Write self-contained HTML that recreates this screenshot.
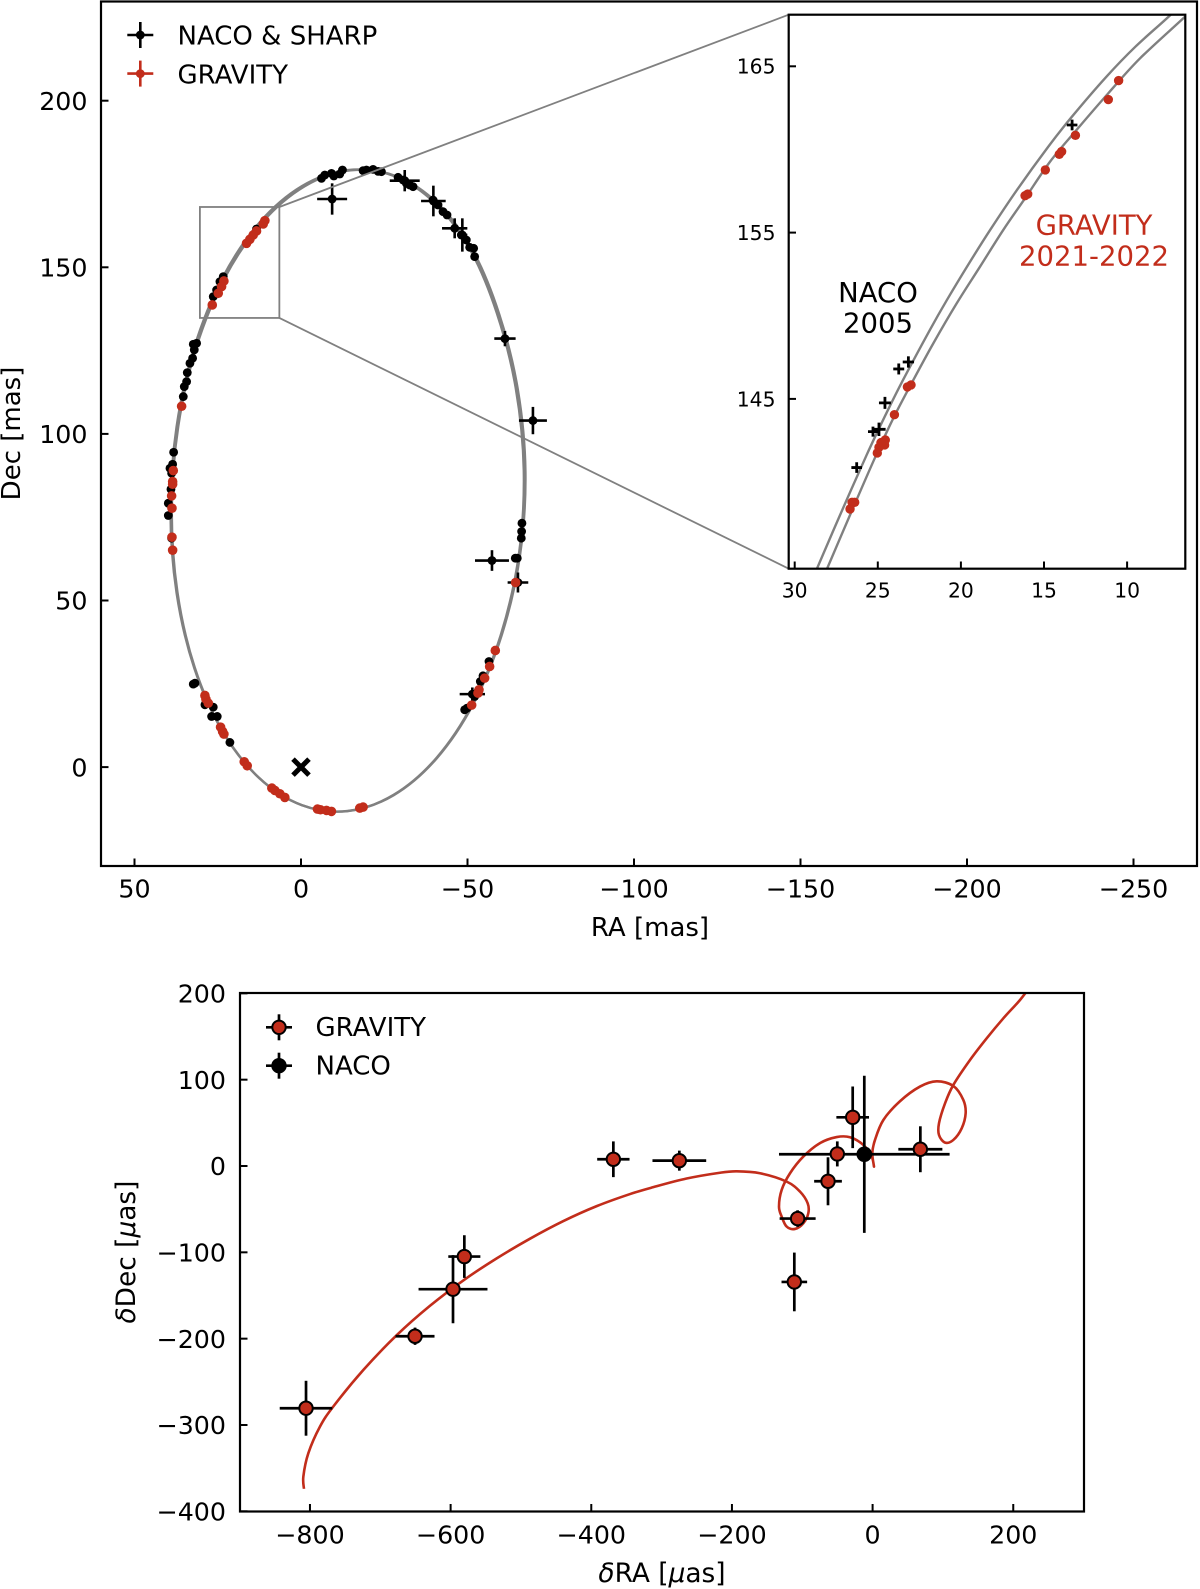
<!DOCTYPE html>
<html lang="en">
<head>
<meta charset="utf-8">
<title>Orbit astrometry and residuals</title>
<style>
html,body{margin:0;padding:0;background:#fff;}
svg{display:block;}
text{font-family:"DejaVu Sans","Liberation Sans",sans-serif;fill:#000;}
</style>
</head>
<body>
<svg id="figure" xmlns="http://www.w3.org/2000/svg" width="1200" height="1589" viewBox="0 0 1200 1589">
<defs>
<clipPath id="clip-main"><rect x="101" y="1.5" width="1096" height="864.5"/></clipPath>
<clipPath id="clip-inset"><rect x="788.7" y="14.7" width="396.6" height="554"/></clipPath>
<clipPath id="clip-low"><rect x="240" y="993" width="844" height="518.5"/></clipPath>
</defs>
<rect x="0" y="0" width="1200" height="1589" fill="#fff"/>
<g id="main-panel"></g>
<g id="inset-panel"></g>
<g id="low-panel"></g>
</svg>
<script>
// ---------- main orbit panel data (mas) ----------
const orbitARa = [-66.9,-64.5,-58.8,-50.8,-40.2,-27.82,-14.04,-0.26,12.58,23.6,32.06,37.37,39.19,37.37,32.06,23.6,12.58,-0.26,-14.04,-27.82,-40.66,-51.68,-60.14,-65.45];
const orbitADec = [89.01,113.7,136.29,155.25,169.29,177.44,179.17,174.34,163.29,146.77,125.89,102.1,77.01,52.32,29.73,10.77,-3.27,-11.42,-13.15,-8.32,2.73,19.25,40.13,63.92];
const orbitBRa = [-67.4,-65.1,-59.5,-51.6,-41.1,-28.71,-14.94,-1.13,11.76,22.87,31.43,36.86,38.8,37.11,31.91,23.55,12.6,-0.2,-13.97,-27.78,-40.67,-51.78,-60.34,-65.77];
const orbitBDec = [88.67,113.37,135.99,154.99,169.09,177.3,179.1,174.34,163.35,146.89,126.05,102.29,77.21,52.51,29.89,10.89,-3.21,-11.42,-13.22,-8.46,2.53,18.99,39.83,63.59];
const nacoRa = [-6.15,-7.15,-9.15,-9.85,-11.65,-12.45,-18.65,-19.65,-21.65,-23.15,-24.15,-29.15,-30.65,-31.65,-32.65,-33.65,-39.65,-41.15,-42.65,-43.85,-48.15,-49.65,-50.65,-51.85,-52.15,31.35,32.35,32.05,32.55,33.35,34.15,34.35,35.05,35.35,23.35,24.35,25.35,26.35,13.35,38.25,38.55,39.35,38.85,39.05,39.85,39.85,38.85,-66.35,-66.25,-66.15,-64.95,-64.35,-56.45,-54.65,-53.85,-53.15,-52.15,-49.85,-49.15,31.85,32.35,28.85,26.35,26.85,25.15,21.35];
const nacoDec = [176.7,177.7,178.2,177.4,178.0,179.2,179.0,179.2,179.4,178.8,178.7,177.0,176.2,175.2,174.7,174.2,170.2,168.7,166.7,165.7,159.7,158.2,156.0,155.7,153.2,127.2,126.9,125.2,122.7,121.2,118.4,115.7,114.2,111.2,147.2,145.7,143.2,141.2,161.5,94.5,90.9,89.7,88.2,83.4,79.2,75.5,68.7,73.2,70.7,68.7,62.7,62.7,31.7,27.4,25.7,22.7,21.2,17.7,17.2,25.2,24.9,18.7,18.0,15.2,15.2,7.4];
const nacoErrRa = [-9.35,-31.15,-39.75,-46.15,-48.45,-61.25,-69.65,-57.35,-65.15,-51.45];
const nacoErrDec = [170.5,176.0,169.9,161.7,159.7,128.6,104.0,62.0,55.4,21.9];
const nacoErrX = [4.5,4.5,3.7,3.8,1.5,3.2,4.2,5.1,3.1,3.8];
const nacoErrY = [4.7,3.2,4.6,3.0,5.0,2.3,4.1,3.1,3.0,2.0];
const gravityRa = [10.85,11.35,13.35,14.35,15.35,16.35,23.15,23.85,24.85,26.65,35.85,38.35,38.55,38.55,38.85,38.75,38.75,38.55,-64.45,-58.35,-56.65,-55.15,-53.45,-53.15,-51.25,28.85,28.55,27.85,24.15,23.55,23.15,17.05,16.15,8.75,7.85,6.35,4.85,-4.95,-5.85,-7.65,-9.15,-17.65,-18.65];
const gravityDec = [164.0,163.0,160.9,159.7,158.4,157.2,145.9,144.2,142.2,138.7,108.3,89.0,85.7,84.9,81.4,77.7,69.0,65.1,55.4,35.0,30.2,26.7,23.2,22.2,18.6,21.5,20.4,19.2,12.0,10.7,9.9,1.6,0.4,-6.3,-7.0,-8.0,-9.1,-12.6,-12.8,-13.0,-13.3,-12.3,-12.0];
const mainXTicks = [50,0,-50,-100,-150,-200,-250];
const mainYTicks = [0,50,100,150,200];
const zoomBoxRa = [30.36,6.5];
const zoomBoxDec = [134.8,168.1];

// ---------- inset data (mas) ----------
const insetARa = [29.15,28.68,27.27,25.67,24.44,23.48,21.87,20.84,19.51,18.24,16.63,14.74,13.32,11.25,9.5,7.4,6.0];
const insetADec = [133.7,134.75,138.02,141.63,144.23,146.14,149.14,150.95,153.15,155.16,157.56,160.17,161.97,164.37,166.18,168.08,169.5];
const insetBRa = [28.6,28.07,26.67,25.23,24.07,22.86,21.66,20.25,18.85,17.45,16.14,14.64,13.13,11.13,9.22,6.52,5.5];
const insetBDec = [133.5,134.75,138.02,141.33,143.83,146.14,148.34,150.75,152.95,155.16,157.06,159.26,161.07,163.38,165.48,167.98,169.0];
const insetGravityRa = [10.51,11.13,13.11,13.94,14.08,14.92,15.98,16.14,23.0,23.22,24.0,24.55,24.59,24.81,24.93,25.03,26.39,26.55,26.67];
const insetGravityDec = [164.14,163.0,160.85,159.87,159.71,158.77,157.32,157.22,145.84,145.72,144.05,142.53,142.23,142.37,142.09,141.75,138.78,138.78,138.38];
const insetNacoRa = [23.16,23.74,24.57,24.93,25.29,26.27,13.31];
const insetNacoDec = [147.22,146.8,144.76,143.17,143.03,140.87,161.47];
const insetNacoErrX = [0.34,0.33,0.36,0.4,0.3,0.32,0.32];
const insetNacoErrY = [0.34,0.33,0.36,0.4,0.3,0.32,0.32];
const insetXTicks = [30,25,20,15,10];
const insetYTicks = [145,155,165];

// ---------- residual panel data (micro-arcsec) ----------
const modelDRa = [-808.5,-809.4,-802.3,-785.7,-766.8,-724,-676.7,-629.3,-581.9,-534.5,-487.1,-439.7,-392.3,-344.9,-311.8,-264.4,-217,-193.3,-160.1,-122.2,-103.2,-92.3,-91.4,-98.5,-110.3,-122.2,-129.3,-133.1,-129.3,-117.4,-98.5,-74.8,-51.1,-32.1,-13.2,-1.3,2,-0.4,3.4,15.3,38.9,67.4,91.1,114.8,129,132.3,126.7,114.8,103,94.4,94.4,103,114.8,138.5,162.2,185.9,209.6,225];
const modelDDec = [-374,-359.7,-332.7,-301.8,-278.6,-236.2,-196,-161.9,-132.5,-107,-84.2,-63.8,-46.5,-32.5,-24.5,-14.5,-7.8,-6.2,-8.4,-18.1,-29.7,-43.2,-54.7,-66.3,-72.9,-70.2,-58.6,-47,-27.7,-8.4,10.9,26.5,33.5,33.3,24.4,10.9,-0.7,14.7,30.2,53.3,75,92,98.1,92.7,76.5,61.1,43.7,30.2,27.1,35.9,49.5,72.6,93.9,122.8,147.9,171.1,192.3,209];
const resDRa = [-805.6,-650.6,-596.6,-580.5,-368.6,-274.8,-111.3,-106.6,-63.4,-50.2,-28.3,67.9];
const resDDec = [-280.6,-197.2,-142.7,-104.9,7.8,6.2,-134.3,-60.9,-17.7,14,56.4,19.4];
const resErrX = [37.4,27.7,49,22.8,23,38.2,18.2,25.6,19.7,10,23.2,31.3];
const resErrY = [31.8,10,39.4,24.7,20.7,11.6,34,9.6,27.8,14.5,35.7,26.6];
const nacoResDRa = [-11.8];
const nacoResDDec = [13.6];
const nacoResErrX = [121.3];
const nacoResErrY = [91];
const lowXTicks = [-800,-600,-400,-200,0,200];
const lowYTicks = [-400,-300,-200,-100,0,100,200];

// ---------- axis functions ----------
const mainX = v => 301 - 3.33 * v;
const mainY = v => 100.7 + (200 - v) * 3.332;
const insetX = v => 794.7 + (30 - v) * 16.62;
const insetY = v => 66.3 + (165 - v) * 16.63;
const lowX = v => 872.6 + 0.7033 * v;
const lowY = v => 1166 - 0.8633 * v;

const RED = '#c22d1b';
const GRAY = '#808080';
const NS = 'http://www.w3.org/2000/svg';

function mk(tag, props, parent) {
  const el = document.createElementNS(NS, tag);
  for (const k in props) el.setAttribute(k, props[k]);
  parent.appendChild(el);
  return el;
}
function fmt(v) { return String(v).replace('-', '\u2212'); }
function spline(xs, ys, closed) {
  const n = xs.length;
  const at = i => closed ? [xs[(i + n) % n], ys[(i + n) % n]] : [xs[Math.max(0, Math.min(n - 1, i))], ys[Math.max(0, Math.min(n - 1, i))]];
  let d = 'M' + xs[0].toFixed(2) + ' ' + ys[0].toFixed(2);
  const last = closed ? n : n - 1;
  for (let i = 0; i < last; i++) {
    const p0 = at(i - 1), p1 = at(i), p2 = at(i + 1), p3 = at(i + 2);
    d += 'C' + (p1[0] + (p2[0] - p0[0]) / 6).toFixed(2) + ' ' + (p1[1] + (p2[1] - p0[1]) / 6).toFixed(2) + ' ' +
         (p2[0] - (p3[0] - p1[0]) / 6).toFixed(2) + ' ' + (p2[1] - (p3[1] - p1[1]) / 6).toFixed(2) + ' ' +
         p2[0].toFixed(2) + ' ' + p2[1].toFixed(2);
  }
  return d + (closed ? 'Z' : '');
}
function errBar(parent, cx, cy, x1, x2, y1, y2, color, w) {
  const h = mk('line', {x1: x1, x2: x2, y1: cy, y2: cy, stroke: color, 'stroke-width': w}, parent);
  
  
  const v = mk('line', {x1: cx, x2: cx, y1: y1, y2: y2, stroke: color, 'stroke-width': w}, parent);
  
  
}
function frame(parent, x, y, w, h) {
  const r = mk('rect', {x: x, y: y, width: w, height: h, fill: 'none', stroke: '#000', 'stroke-width': 2.2}, parent);
  
  
}

// ---------- main panel ----------
const gm = document.getElementById('main-panel');
const gmc = mk('g', {'clip-path': 'url(#clip-main)'}, gm);



const orbitA = mk('path', {d: spline(orbitARa.map(mainX), orbitADec.map(mainY), true), fill: 'none', stroke: GRAY, 'stroke-width': 2.4}, gmc);


const orbitB = mk('path', {d: spline(orbitBRa.map(mainX), orbitBDec.map(mainY), true), fill: 'none', stroke: GRAY, 'stroke-width': 2.4}, gmc);



nacoRa.forEach((ra, i) => {
  const c = mk('circle', {cx: mainX(ra), cy: mainY(nacoDec[i]), r: 4.4, fill: '#000'}, gmc);
  
  
});
nacoErrRa.forEach((ra, i) => {
  const d = nacoErrDec[i];
  errBar(gmc, mainX(ra), mainY(d), mainX(ra + nacoErrX[i]), mainX(ra - nacoErrX[i]), mainY(d + nacoErrY[i]), mainY(d - nacoErrY[i]), '#000', 2.6);
  const c = mk('circle', {cx: mainX(ra), cy: mainY(d), r: 4.4, fill: '#000'}, gmc);
  
  
});
gravityRa.forEach((ra, i) => {
  const c = mk('circle', {cx: mainX(ra), cy: mainY(gravityDec[i]), r: 4.8, fill: RED}, gmc);
  
  
});
const sgr = mk('path', {d: 'M' + (mainX(0) - 8) + ' ' + (mainY(0) - 8) + 'L' + (mainX(0) + 8) + ' ' + (mainY(0) + 8) + 'M' + (mainX(0) + 8) + ' ' + (mainY(0) - 8) + 'L' + (mainX(0) - 8) + ' ' + (mainY(0) + 8), stroke: '#000', 'stroke-width': 5, fill: 'none'}, gmc);



const zoomRect = mk('rect', {x: mainX(zoomBoxRa[0]), y: mainY(zoomBoxDec[1]), width: mainX(zoomBoxRa[1]) - mainX(zoomBoxRa[0]), height: mainY(zoomBoxDec[0]) - mainY(zoomBoxDec[1]), fill: 'none', stroke: GRAY, 'stroke-width': 1.8}, gm);


const conn1 = mk('line', {x1: mainX(zoomBoxRa[1]), y1: mainY(zoomBoxDec[1]), x2: 788.7, y2: 14.7, stroke: GRAY, 'stroke-width': 1.8}, gm);


const conn2 = mk('line', {x1: mainX(zoomBoxRa[1]), y1: mainY(zoomBoxDec[0]), x2: 788.7, y2: 568.7, stroke: GRAY, 'stroke-width': 1.8}, gm);



mainXTicks.forEach(v => {
  const t = mk('line', {x1: mainX(v), x2: mainX(v), y1: 866, y2: 858.5, stroke: '#000', 'stroke-width': 2}, gm);
  
  
  const l = mk('text', {x: mainX(v), y: 897.3, 'text-anchor': 'middle', 'font-size': 25.3}, gm);
  
  
  l.textContent = fmt(v);
});
mainYTicks.forEach(v => {
  const t = mk('line', {x1: 101, x2: 108.5, y1: mainY(v), y2: mainY(v), stroke: '#000', 'stroke-width': 2}, gm);
  
  
  const l = mk('text', {x: 87.5, y: mainY(v) + 9.2, 'text-anchor': 'end', 'font-size': 25.3}, gm);
  
  
  l.textContent = fmt(v);
});
frame(gm, 101, 1.5, 1096, 864.5);

const mxTitle = mk('text', {x: 650, y: 936, 'text-anchor': 'middle', 'font-size': 26}, gm);


mxTitle.textContent = 'RA [mas]';
const myTitle = mk('text', {transform: 'translate(20,433.5) rotate(-90)', 'text-anchor': 'middle', 'font-size': 26}, gm);


myTitle.textContent = 'Dec [mas]';

// main legend
const mainLegendLabels = ['NACO & SHARP', 'GRAVITY'];
const mainLegendColors = ['#000', RED];
mainLegendLabels.forEach((label, i) => {
  const y = 35 + i * 38.6;
  const g = mk('g', {}, gm);
  
  
  errBar(g, 140.3, y, 127.3, 153.3, y - 13, y + 13, mainLegendColors[i], 2.6);
  const c = mk('circle', {cx: 140.3, cy: y, r: 4.4, fill: mainLegendColors[i]}, g);
  
  
  const tx = mk('text', {x: 177.5, y: y + 9.7, 'font-size': 26}, g);
  
  
  tx.textContent = label;
});

// ---------- inset ----------
const gi = document.getElementById('inset-panel');
const ibg = mk('rect', {x: 788.7, y: 14.7, width: 396.6, height: 554, fill: '#fff'}, gi);


const gic = mk('g', {'clip-path': 'url(#clip-inset)'}, gi);


const iA = mk('path', {d: spline(insetARa.map(insetX), insetADec.map(insetY), false), fill: 'none', stroke: GRAY, 'stroke-width': 2.4}, gic);


const iB = mk('path', {d: spline(insetBRa.map(insetX), insetBDec.map(insetY), false), fill: 'none', stroke: GRAY, 'stroke-width': 2.4}, gic);


insetNacoRa.forEach((ra, i) => {
  const d = insetNacoDec[i];
  errBar(gic, insetX(ra), insetY(d), insetX(ra + insetNacoErrX[i]), insetX(ra - insetNacoErrX[i]), insetY(d + insetNacoErrY[i]), insetY(d - insetNacoErrY[i]), '#000', 2.8);
  const c = mk('circle', {cx: insetX(ra), cy: insetY(d), r: 1.8, fill: '#000'}, gic);
  
  
});
insetGravityRa.forEach((ra, i) => {
  const c = mk('circle', {cx: insetX(ra), cy: insetY(insetGravityDec[i]), r: 4.7, fill: RED}, gic);
  
  
});
insetXTicks.forEach(v => {
  const t = mk('line', {x1: insetX(v), x2: insetX(v), y1: 568.7, y2: 561.5, stroke: '#000', 'stroke-width': 2}, gi);
  
  
  const l = mk('text', {x: insetX(v), y: 597.3, 'text-anchor': 'middle', 'font-size': 20.3}, gi);
  
  
  l.textContent = fmt(v);
});
insetYTicks.forEach(v => {
  const t = mk('line', {x1: 788.7, x2: 796, y1: insetY(v), y2: insetY(v), stroke: '#000', 'stroke-width': 2}, gi);
  
  
  const l = mk('text', {x: 775.5, y: insetY(v) + 7.4, 'text-anchor': 'end', 'font-size': 20.3}, gi);
  
  
  l.textContent = fmt(v);
});
frame(gi, 788.7, 14.7, 396.6, 554);
const naco1 = mk('text', {x: 878, y: 302, 'text-anchor': 'middle', 'font-size': 27.5}, gi);


naco1.textContent = 'NACO';
const naco2 = mk('text', {x: 878, y: 332.5, 'text-anchor': 'middle', 'font-size': 27.5}, gi);


naco2.textContent = '2005';
const grav1 = mk('text', {x: 1094, y: 234.7, 'text-anchor': 'middle', 'font-size': 27.5, style: 'fill:' + RED}, gi);


grav1.textContent = 'GRAVITY';
const grav2 = mk('text', {x: 1094, y: 265.5, 'text-anchor': 'middle', 'font-size': 27.5, style: 'fill:' + RED}, gi);


grav2.textContent = '2021-2022';

// ---------- residual panel ----------
const gl = document.getElementById('low-panel');
const glc = mk('g', {'clip-path': 'url(#clip-low)'}, gl);


const model = mk('path', {d: spline(modelDRa.map(lowX), modelDDec.map(lowY), false), fill: 'none', stroke: RED, 'stroke-width': 2.6}, glc);


nacoResDRa.forEach((ra, i) => {
  const d = nacoResDDec[i];
  errBar(glc, lowX(ra), lowY(d), lowX(ra - nacoResErrX[i]), lowX(ra + nacoResErrX[i]), lowY(d + nacoResErrY[i]), lowY(d - nacoResErrY[i]), '#000', 2.7);
  const c = mk('circle', {cx: lowX(ra), cy: lowY(d), r: 7.8, fill: '#000'}, glc);
  
  
});
resDRa.forEach((ra, i) => {
  const d = resDDec[i];
  errBar(glc, lowX(ra), lowY(d), lowX(ra - resErrX[i]), lowX(ra + resErrX[i]), lowY(d + resErrY[i]), lowY(d - resErrY[i]), '#000', 2.7);
  const c = mk('circle', {cx: lowX(ra), cy: lowY(d), r: 6.7, fill: RED, stroke: '#000', 'stroke-width': 2}, glc);
  
  
});
lowXTicks.forEach(v => {
  const t = mk('line', {x1: lowX(v), x2: lowX(v), y1: 1511.5, y2: 1504, stroke: '#000', 'stroke-width': 2}, gl);
  
  
  const l = mk('text', {x: lowX(v), y: 1543.3, 'text-anchor': 'middle', 'font-size': 25.3}, gl);
  
  
  l.textContent = fmt(v);
});
lowYTicks.forEach(v => {
  const t = mk('line', {x1: 240, x2: 247.5, y1: lowY(v), y2: lowY(v), stroke: '#000', 'stroke-width': 2}, gl);
  
  
  const l = mk('text', {x: 226, y: lowY(v) + 9.2, 'text-anchor': 'end', 'font-size': 25.3}, gl);
  
  
  l.textContent = fmt(v);
});
frame(gl, 240, 993, 844, 518.5);

const lxTitle = mk('text', {x: 662, y: 1582, 'text-anchor': 'middle', 'font-size': 26.4}, gl);


lxTitle.innerHTML = '<tspan font-style="italic">\u03B4</tspan>RA [<tspan font-style="italic">\u03BC</tspan>as]';
const lyTitle = mk('text', {transform: 'translate(135,1252) rotate(-90)', 'text-anchor': 'middle', 'font-size': 26.4}, gl);


lyTitle.innerHTML = '<tspan font-style="italic">\u03B4</tspan>Dec [<tspan font-style="italic">\u03BC</tspan>as]';

const lowLegendLabels = ['GRAVITY', 'NACO'];
const lowLegendFills = [RED, '#000'];
lowLegendLabels.forEach((label, i) => {
  const y = 1027.3 + i * 38.4;
  const g = mk('g', {}, gl);
  
  
  errBar(g, 279, y, 266, 292, y - 13, y + 13, '#000', 2.7);
  const c = mk('circle', {cx: 279, cy: y, r: 6.7, fill: lowLegendFills[i], stroke: '#000', 'stroke-width': 2}, g);
  
  
  const tx = mk('text', {x: 315.5, y: y + 8.9, 'font-size': 26}, g);
  
  
  tx.textContent = label;
});
</script>
</body>
</html>
